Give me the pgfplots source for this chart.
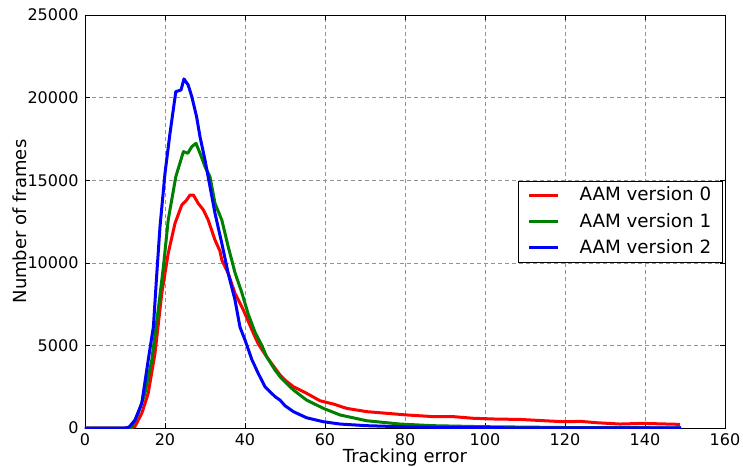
\documentclass[border=0pt]{standalone}
\usepackage{pgfplots}
\pgfplotsset{compat=1.18}
\usepackage{fontspec}
\setmainfont{DejaVu Sans}
\begin{document}
\fontsize{16}{19}\selectfont
\begin{tikzpicture}
\begin{axis}[
  name=ax,
  at={(0,0)}, anchor=south west,
  scale only axis,
  width=640pt, height=413pt,
  xmin=0, xmax=160, ymin=0, ymax=25000,
  xtick={0,20,...,160},
  ytick={0,5000,...,25000},
  scaled y ticks=false,
  /pgf/number format/1000 sep={},
  /pgf/number format/assume math mode=true,
  tick align=inside,
  major tick length=5pt,
  tick style={black, line width=0.6pt},
  axis line style={black, line width=0.8pt},
  xmajorgrids, ymajorgrids,
  grid style={gray!85, dash pattern=on 4pt off 3pt, line width=0.6pt},
  ticklabel style={font=\fontsize{16}{19}\selectfont},
  xlabel={Tracking error},
  ylabel={Number of frames},
  every axis x label/.style={at={(axis description cs:0.5,-0.071)}, anchor=center, font=\fontsize{18}{21}\selectfont},
  every axis y label/.style={at={(axis description cs:-0.1016,0.5)}, rotate=90, anchor=center, font=\fontsize{18}{21}\selectfont},
  xticklabel style={yshift=-0.5pt},
  yticklabel style={xshift=-1pt},
  legend style={at={(0.996,0.5)}, anchor=east, draw=black, line width=0.6pt, font=\fontsize{18.3}{22}\selectfont, inner xsep=9pt, inner ysep=4pt, row sep=6pt},
  legend cell align=left,
  legend image code/.code={\draw[#1, line width=3pt] (0cm,0cm) -- (1.0cm,0cm);},
]
\addplot[red, line width=3pt, line join=round] coordinates {
(0,0) (11.5,0) (12.5,100) (14.2,890) (15.8,2100) (17.5,4520) (19.2,8150) (20.8,10570) (22.5,12390) (24.2,13500) (25.4,13800) (26.25,14100) (27.1,14100) (28.3,13600) (29.6,13200) (30.8,12590) (32.5,11380) (33.75,10700) (34.2,10170) (35.8,9360) (37.5,8150) (39.6,7140) (42.1,5730) (43.3,5100) (45.4,4320) (48.75,3210) (50,2900) (52.1,2500) (55.4,2100) (58.75,1650) (62.1,1450) (65.4,1190) (70.4,990) (75.4,890) (80.4,790) (87,690) (92,690) (97,590) (102.9,540) (108.75,520) (114,450) (119.6,380) (124,400) (127.9,320) (133.75,240) (139.6,280) (144,250) (148.75,220)
};
\addlegendentry{\hspace{0.65cm}AAM version 0}
\addplot[green!50!black, line width=3pt, line join=round] coordinates {
(0,0) (11,0) (11.7,50) (13.3,890) (15,2100) (16.7,4120) (18.3,7140) (19.6,9760) (20.8,12590) (22.7,15210) (24.6,16730) (25.7,16630) (26.7,17030) (27.75,17230) (28.75,16630) (30,15820) (31.25,15210) (32.5,13600) (34.2,12590) (35.8,10980) (37.5,9400) (39.2,8200) (40.8,6900) (42.5,5800) (44.2,5000) (45.4,4320) (47.5,3510) (48.75,3110) (50,2800) (52.1,2300) (55.4,1690) (59.6,1190) (63.75,790) (70.4,440) (78.75,240) (87,140) (99.6,80) (120,30) (149,10)
};
\addlegendentry{\hspace{0.65cm}AAM version 1}
\addplot[blue, line width=3pt, line join=round] coordinates {
(0,0) (10,0) (11,50) (12.5,480) (14.2,1500) (15.8,4100) (17.1,6130) (17.9,9160) (18.75,12190) (20,15420) (21.25,17840) (22.7,20360) (24,20460) (24.75,21130) (25.8,20760) (26.7,20060) (27.9,18840) (28.75,17630) (30,16220) (31.25,14610) (32.5,13000) (34.2,11180) (35.8,9360) (37.5,7750) (38.75,6100) (40,5330) (41.7,4150) (43.3,3310) (45,2500) (47.5,1900) (48.75,1690) (50,1350) (52.1,990) (55.4,620) (59.6,380) (63.75,240) (70.4,140) (78.75,80) (90,30) (110,10) (149,5)
};
\addlegendentry{\hspace{0.65cm}AAM version 2}
\end{axis}
\pgfresetboundingbox
\path[use as bounding box] ([xshift=-85pt,yshift=-38pt]ax.south west) rectangle ([xshift=18pt,yshift=15pt]ax.north east);
\end{tikzpicture}
\end{document}
